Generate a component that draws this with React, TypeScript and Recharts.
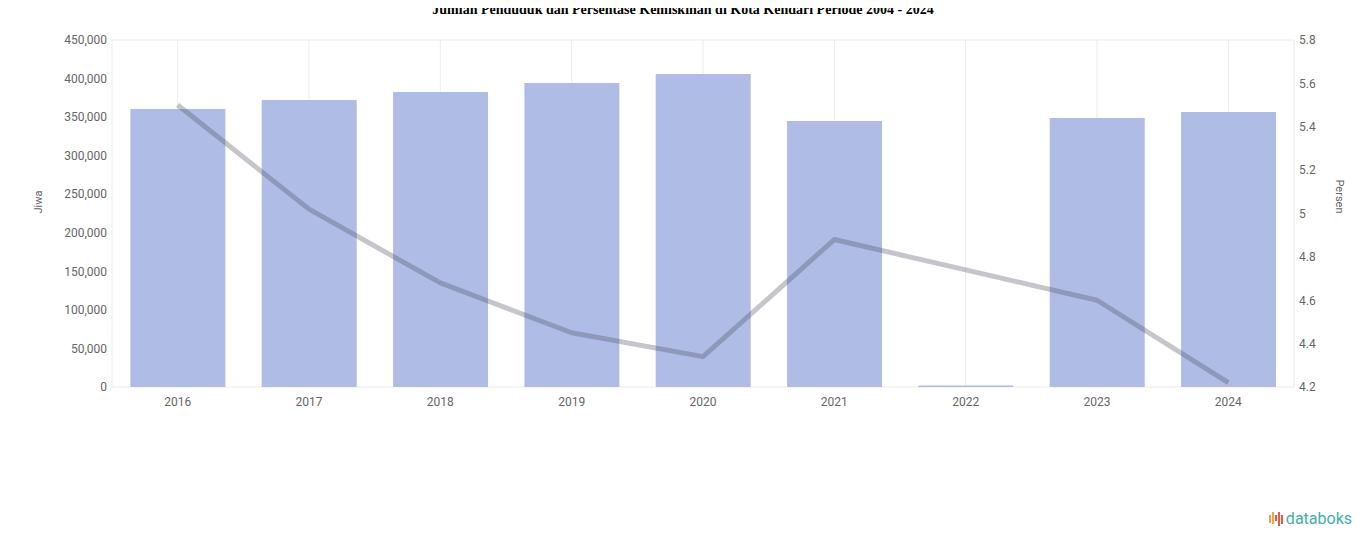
import React from 'react';
import { ComposedChart, Bar, Line, XAxis, YAxis, CartesianGrid } from 'recharts';

const years = ['2016', '2017', '2018', '2019', '2020', '2021', '2022', '2023', '2024'];
const penduduk = [360500, 372200, 382600, 394200, 405900, 345000, 2000, 348800, 356600];
const kemiskinan = [5.5, 5.02, 4.68, 4.45, 4.34, 4.88, 4.74, 4.6, 4.22];

const leftTicks = [0, 50000, 100000, 150000, 200000, 250000, 300000, 350000, 400000, 450000];
const rightTicks = [4.2, 4.4, 4.6, 4.8, 5, 5.2, 5.4, 5.6, 5.8];

const data = years.map((year, i) => ({
  year,
  penduduk: penduduk[i],
  kemiskinan: kemiskinan[i],
}));

const tickStyle = { fontSize: 12, fill: '#666', fontFamily: 'Roboto, sans-serif' };

const Logo = () => (
  <div style={{ position: 'absolute', right: 14, bottom: 19, display: 'flex', alignItems: 'flex-end' }}>
    <div style={{ display: 'flex', alignItems: 'flex-start', gap: 1, marginRight: 3, height: 14, marginBottom: 2 }}>
      {[8, 12, 6, 14, 9].map((h, i) => (
        <span key={i} style={{ display: 'block', width: 2, height: h, marginTop: i % 2 ? 0 : 3, background: i < 2 ? '#f2a23b' : '#e8574a' }} />
      ))}
    </div>
    <span style={{ fontFamily: 'Roboto, sans-serif', fontSize: 16, color: '#41b0aa', lineHeight: '18px' }}>databoks</span>
  </div>
);

const App = () => {
  return (
    <div style={{ position: 'relative', width: 1366, height: 547, margin: -8, background: '#fff' }}>
      <ComposedChart
        width={1366}
        height={547}
        data={data}
        margin={{ top: 40, right: 28, bottom: 130, left: 28 }}
        barCategoryGap="14%"
      >
        <CartesianGrid stroke="#ececec" />
        <XAxis
          dataKey="year"
          axisLine={false}
          tickLine={false}
          tick={tickStyle}
          tickMargin={4}
          height={30}
        />
        <YAxis
          yAxisId="left"
          domain={[0, 450000]}
          ticks={leftTicks}
          axisLine={false}
          tickLine={false}
          tickSize={0}
          tickMargin={5}
          width={84}
          tick={tickStyle}
          tickFormatter={(v: number) => v.toLocaleString('en-US')}
          label={{ value: 'Jiwa', angle: -90, position: 'insideLeft', offset: 10, style: { fontSize: 11, fill: '#666', fontFamily: 'Roboto, sans-serif' } }}
        />
        <YAxis
          yAxisId="right"
          orientation="right"
          domain={[4.2, 5.8]}
          ticks={rightTicks}
          axisLine={false}
          tickLine={false}
          tickSize={0}
          tickMargin={5}
          width={44}
          tick={tickStyle}
          label={{ value: 'Persen', angle: 90, position: 'insideRight', offset: -2, style: { fontSize: 11, fill: '#666', fontFamily: 'Roboto, sans-serif' } }}
        />
        <Bar yAxisId="left" dataKey="penduduk" fill="#afbde6" isAnimationActive={false} />
        <Line
          yAxisId="right"
          type="linear"
          dataKey="kemiskinan"
          stroke="#4a4a60"
          strokeOpacity={0.32}
          strokeWidth={5}
          strokeLinejoin="round"
          dot={false}
          isAnimationActive={false}
        />
      </ComposedChart>
      <div
        style={{
          position: 'absolute',
          top: 2,
          left: 0,
          width: 1366,
          zIndex: 5,
          textAlign: 'center',
          fontFamily: '"Liberation Serif", "Times New Roman", serif',
          fontWeight: 'bold',
          fontSize: 14,
          lineHeight: '16px',
        }}
      >
        Jumlah Penduduk dan Persentase Kemiskinan di Kota Kendari Periode 2004 - 2024
      </div>
      <Logo />
    </div>
  );
};

export default App;
